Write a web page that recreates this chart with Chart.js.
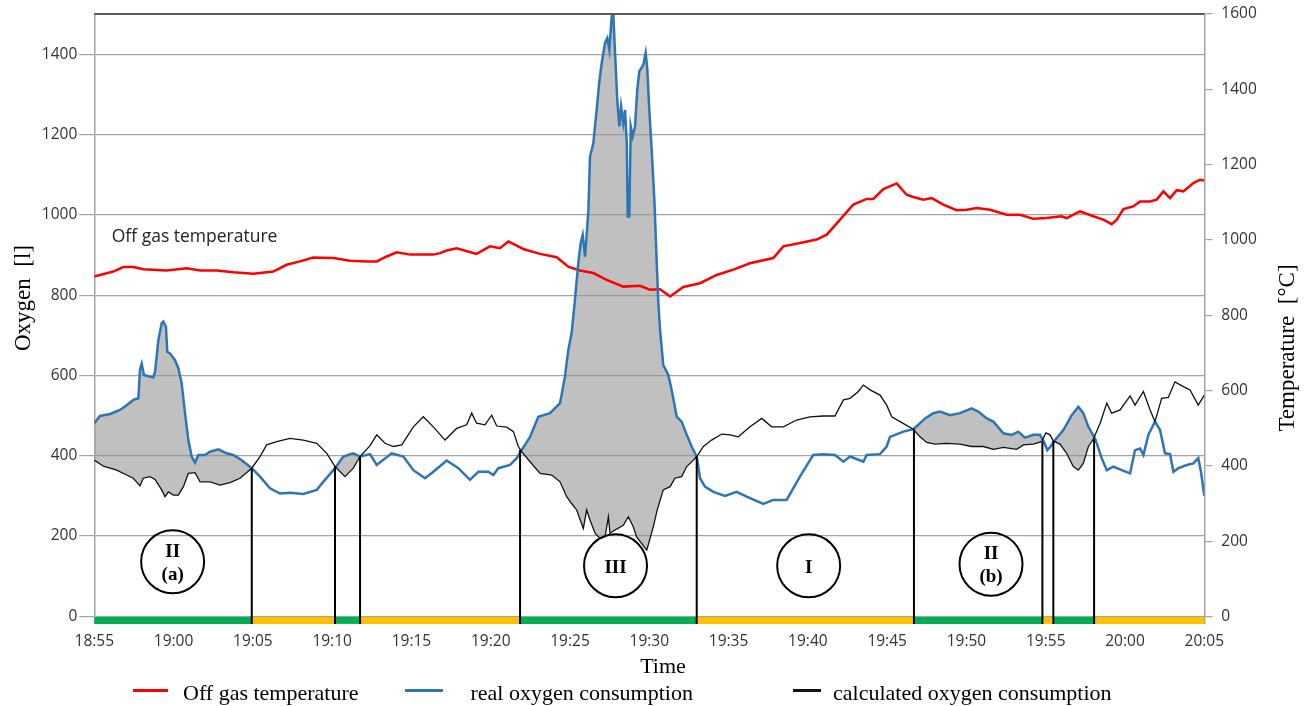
<!DOCTYPE html>
<html><head><meta charset="utf-8">
<script src="https://cdn.jsdelivr.net/npm/chart.js@4/dist/chart.umd.min.js"></script>
<style>html,body{margin:0;padding:0;background:#fff;}canvas{display:block;}</style>
</head><body>
<canvas id="c" width="1309" height="706"></canvas>
<script>
// ---- data (minutes after 18:55, value) ----
const timeLabels = ['18:55','19:00','19:05','19:10','19:15','19:20','19:25','19:30','19:35','19:40','19:45','19:50','19:55','20:00','20:05'];
const oxygenTicks = [0,200,400,600,800,1000,1200,1400];
const temperatureTicks = [0,200,400,600,800,1000,1200,1400,1600];

const offGasTemperature = [[0,903],[0.36,907],[1.2,916],[1.83,928],[2.46,928],[3.09,922],[4.57,919],[5.83,925],[6.67,919],[7.72,919],[8.77,914],[10.03,910],[11.29,916],[12.13,934],[12.97,943],[13.81,953],[15.07,952],[16.13,945],[17.18,943],[17.81,943],[18.44,956],[19.07,967],[19.91,961],[21.38,961],[21.8,965],[22.22,972],[22.85,978],[24.11,963],[24.95,983],[25.58,978],[26.11,996],[27.05,976],[28.11,963],[29.16,954],[29.89,929],[30.63,919],[31.47,912],[32.31,894],[33.36,876],[34.41,878],[35.05,868],[35.68,869],[36.31,850],[37.15,875],[38.2,885],[39.25,907],[40.3,921],[41.35,938],[42.82,952],[43.45,983],[44.5,992],[45.55,1001],[46.19,1014],[47.03,1054],[47.87,1094],[48.71,1109],[49.13,1109],[49.76,1135],[50.6,1150],[51.23,1120],[51.65,1114],[52.28,1107],[52.81,1111],[53.54,1094],[54.38,1079],[55.02,1080],[55.65,1085],[56.49,1080],[57.54,1067],[58.38,1067],[59.22,1056],[60.06,1058],[61.0,1063],[61.32,1058],[62.16,1076],[63.0,1063],[63.63,1054],[64.16,1042],[64.48,1054],[64.9,1082],[65.52,1089],[65.95,1102],[66.58,1102],[67.0,1107],[67.42,1129],[67.84,1111],[68.26,1132],[68.68,1129],[69.31,1151],[69.73,1160],[70,1158]];

const realOxygen = [[0,481],[0.36,499],[1.0,504],[1.62,514],[2.04,526],[2.46,539],[2.78,543],[2.88,614],[2.99,629],[3.13,601],[3.51,597],[3.72,595],[3.83,609],[4.04,688],[4.25,730],[4.35,734],[4.52,721],[4.6,659],[4.77,655],[5.09,638],[5.3,618],[5.51,580],[5.72,506],[5.93,439],[6.14,398],[6.35,383],[6.56,402],[6.98,402],[7.3,410],[7.82,416],[8.35,406],[8.77,402],[9.3,389],[9.93,369],[10.45,348],[11.08,319],[11.71,306],[12.34,308],[13.18,305],[14.03,315],[14.44,335],[15.18,369],[15.7,398],[16.33,406],[16.76,398],[17.39,404],[17.81,377],[18.75,406],[19.49,398],[20.12,364],[20.86,344],[21.38,360],[22.22,388],[22.96,369],[23.69,340],[24.22,360],[24.85,360],[25.16,352],[25.48,369],[26.22,377],[26.64,394],[26.95,414],[27.48,447],[28.0,497],[28.74,506],[29.37,531],[29.68,597],[29.89,663],[30.1,705],[30.31,788],[30.52,879],[30.67,929],[30.8,950],[30.95,896],[31.16,1012],[31.26,1145],[31.37,1162],[31.47,1178],[31.68,1261],[31.85,1332],[32.0,1378],[32.21,1428],[32.35,1440],[32.48,1411],[32.63,1494],[32.73,1500],[32.84,1403],[32.98,1286],[33.11,1220],[33.22,1270],[33.36,1228],[33.47,1261],[33.58,1178],[33.64,996],[33.74,996],[33.83,1220],[33.95,1195],[34.1,1220],[34.24,1311],[34.37,1357],[34.62,1373],[34.77,1403],[34.87,1365],[35.0,1261],[35.15,1162],[35.32,1037],[35.47,879],[35.57,780],[35.68,713],[35.88,626],[36.2,601],[36.41,564],[36.73,497],[37.04,485],[37.36,452],[37.67,423],[37.99,398],[38.2,344],[38.51,323],[39.04,310],[39.77,300],[40.51,310],[41.14,298],[42.19,280],[42.82,290],[43.66,290],[44.5,348],[45.34,402],[45.97,404],[46.71,402],[47.24,385],[47.66,398],[48.5,385],[48.71,402],[49.55,404],[49.97,423],[50.18,447],[51.02,460],[51.65,466],[52.07,481],[52.39,493],[52.91,506],[53.33,510],[53.96,501],[54.59,506],[55.33,518],[55.75,510],[56.28,493],[56.7,485],[57.33,456],[57.85,452],[58.27,460],[58.69,445],[59.22,452],[59.64,452],[59.89,435],[60.1,414],[60.31,423],[60.59,439],[61.11,464],[61.64,501],[62.06,522],[62.37,506],[62.69,472],[63.11,443],[63.53,394],[63.85,364],[64.26,373],[64.79,364],[65.32,356],[65.63,414],[65.95,418],[66.16,402],[66.47,452],[66.89,485],[67.21,464],[67.52,406],[67.84,404],[68.05,360],[68.37,369],[68.9,377],[69.31,381],[69.62,394],[69.79,360],[70,300]];

const calculatedOxygen = [[0,389],[0.57,374],[1.41,364],[2.04,352],[2.46,344],[2.88,325],[3.09,344],[3.51,348],[3.83,341],[4.25,315],[4.46,298],[4.67,310],[4.98,302],[5.3,302],[5.62,323],[5.93,356],[6.35,358],[6.67,335],[7.3,335],[7.93,327],[8.56,333],[9.19,344],[9.93,369],[10.45,398],[10.87,427],[11.5,435],[12.34,443],[13.18,439],[14.03,431],[14.66,406],[15.18,373],[15.81,348],[16.33,369],[16.76,398],[17.39,425],[17.81,452],[18.33,431],[18.86,423],[19.39,427],[20.12,472],[20.75,497],[21.38,472],[22.12,439],[22.85,468],[23.48,477],[23.8,506],[24.11,481],[24.64,477],[25.06,501],[25.38,474],[26.01,471],[26.43,460],[26.74,423],[26.95,410],[27.48,385],[28.11,356],[28.85,352],[29.37,335],[29.79,298],[30.1,281],[30.42,265],[30.84,219],[31.05,265],[31.26,240],[31.58,207],[31.89,194],[32.21,198],[32.42,248],[32.52,207],[32.84,215],[33.36,227],[33.68,248],[33.99,223],[34.2,198],[34.84,165],[35.25,223],[35.5,265],[35.88,315],[36.31,323],[36.62,344],[37.04,348],[37.36,373],[37.78,389],[37.99,398],[38.41,423],[38.93,439],[39.57,454],[40.09,452],[40.61,447],[41.35,472],[42.09,493],[42.72,472],[43.45,472],[44.29,489],[45.13,497],[45.97,499],[46.71,499],[47.24,539],[47.66,543],[48.18,560],[48.5,576],[48.92,564],[49.55,551],[49.97,526],[50.29,497],[50.81,485],[51.65,466],[52.07,447],[52.49,433],[53.02,429],[53.75,431],[54.59,429],[55.33,423],[56.07,423],[56.7,416],[57.33,421],[58.17,416],[58.59,427],[59.22,429],[59.74,435],[60.01,457],[60.27,452],[60.48,437],[60.9,429],[61.32,406],[61.74,373],[62.06,364],[62.37,381],[62.69,423],[63.0,441],[63.43,481],[63.85,531],[64.16,506],[64.69,514],[65.32,549],[65.63,526],[66.16,560],[66.58,514],[66.89,485],[67.31,543],[67.73,545],[68.15,584],[68.68,572],[69.1,564],[69.62,526],[70,551]];

// phase strip along the time axis and the phase boundaries
const phaseBoundaries = [0,9.93,15.18,16.76,26.85,37.99,51.69,59.79,60.48,63.05,70];
const phaseKinds = ['excess','deficit','excess','deficit','excess','deficit','excess','deficit','excess','deficit'];
const boundaryTops = [369,373,398,414,398,466,435,437,441];

const phaseNotes = [
  {lines:['II','(a)'], minute:4.94, oxygen:136},
  {lines:['III'], minute:32.87, oxygen:126},
  {lines:['I'], minute:45.05, oxygen:126},
  {lines:['II','(b)'], minute:56.55, oxygen:130}
];

// ---- styles ----
const RED = '#FF0000', BLUE = '#2E75B6', BLACK = '#111111';
const kindColor = {excess:'#00B050', deficit:'#FFC000'};
const Y_MIN = -19, Y2_MIN = -20;
const STRIP_LEVEL = -10;

const toPts = arr => arr.map(p => ({x:p[0], y:p[1]}));
const stripPts = phaseBoundaries.map(m => ({x:m, y:STRIP_LEVEL}));
const markerPts = [];
boundaryTops.forEach((top, i) => {
  const m = phaseBoundaries[i + 1];
  markerPts.push({x:m, y:top}, {x:m, y:Y_MIN}, {x:m, y:null});
});

const tickFont = {family:'"Open Sans", sans-serif', size:15.5};
const TICK_COLOR = '#333333';
const GRID = '#a3a3a3';

const decor = {
  id:'decor',
  afterDatasetsDraw(chart) {
    const {ctx, chartArea:a, scales:{x, y}} = chart;
    ctx.save();
    // top frame line
    ctx.strokeStyle = '#595959'; ctx.lineWidth = 2;
    ctx.beginPath(); ctx.moveTo(a.left, a.top); ctx.lineTo(a.right, a.top); ctx.stroke();
    // phase annotations
    phaseNotes.forEach(n => {
      const cx = x.getPixelForValue(n.minute), cy = y.getPixelForValue(n.oxygen);
      ctx.beginPath(); ctx.arc(cx, cy, 31.5, 0, Math.PI * 2);
      ctx.strokeStyle = '#000'; ctx.lineWidth = 2; ctx.stroke();
      ctx.fillStyle = '#000'; ctx.textAlign = 'center'; ctx.textBaseline = 'alphabetic';
      ctx.font = 'bold 19px "Liberation Serif", serif';
      if (n.lines.length === 1) {
        ctx.fillText(n.lines[0], cx, cy + 7);
      } else {
        ctx.fillText(n.lines[0], cx, cy - 5);
        ctx.fillText(n.lines[1], cx, cy + 18);
      }
    });
    // in-plot label
    ctx.font = '17.5px "Open Sans", sans-serif';
    ctx.fillStyle = '#222'; ctx.textAlign = 'left';
    ctx.fillText('Off gas temperature', x.getPixelForValue(1.1), y.getPixelForValue(932));
    ctx.restore();
  },
  afterDraw(chart) {
    const {ctx} = chart;
    ctx.save();
    ctx.fillStyle = '#000';
    ctx.font = '23px "Liberation Serif", serif';
    ctx.textAlign = 'center'; ctx.textBaseline = 'middle';
    ctx.save(); ctx.translate(24, 298); ctx.rotate(-Math.PI / 2); ctx.fillText('Oxygen  [l]', 0, 0); ctx.restore();
    ctx.save(); ctx.translate(1288, 348); ctx.rotate(-Math.PI / 2); ctx.fillText('Temperature  [°C]', 0, 0); ctx.restore();
    ctx.font = '22px "Liberation Serif", serif';
    ctx.textBaseline = 'alphabetic';
    ctx.fillText('Time', 663, 672.5);
    // legend
    const items = [
      {label:'Off gas temperature', color:RED, l0:133, l1:168, tx:183},
      {label:'real oxygen consumption', color:BLUE, l0:405, l1:443, tx:470.5},
      {label:'calculated oxygen consumption', color:BLACK, l0:793, l1:821, tx:833}
    ];
    ctx.textAlign = 'left';
    items.forEach(it => {
      ctx.strokeStyle = it.color; ctx.lineWidth = 3;
      ctx.beginPath(); ctx.moveTo(it.l0, 690.5); ctx.lineTo(it.l1, 690.5); ctx.stroke();
      ctx.fillStyle = '#000';
      ctx.fillText(it.label, it.tx, 699.5);
    });
    ctx.restore();
  }
};

new Chart(document.getElementById('c'), {
  type:'line',
  data:{
    datasets:[
      {label:'Off gas temperature', data:toPts(offGasTemperature), yAxisID:'y2', borderColor:RED, borderWidth:2.5, pointRadius:0, tension:0, fill:false, order:3},
      {label:'real oxygen consumption', data:toPts(realOxygen), yAxisID:'y', borderColor:BLUE, borderWidth:2.5, pointRadius:0, tension:0,
        fill:{target:2, above:'rgba(150,150,150,0.6)', below:'rgba(0,0,0,0)'}, order:2},
      {label:'calculated oxygen consumption', data:toPts(calculatedOxygen), yAxisID:'y', borderColor:BLACK, borderWidth:1.3, pointRadius:0, tension:0, fill:false, order:1},
      {label:'phase strip', data:stripPts, yAxisID:'y', borderWidth:7, borderCapStyle:'butt', pointRadius:0, tension:0, fill:false, clip:false, order:4,
        borderColor:kindColor.excess,
        segment:{borderColor: c => kindColor[phaseKinds[c.p0DataIndex]]}},
      {label:'phase boundaries', data:markerPts, yAxisID:'y', borderColor:'#000', borderWidth:2, pointRadius:0, tension:0, fill:false, spanGaps:false, order:0}
    ]
  },
  options:{
    responsive:false, devicePixelRatio:1, animation:false, parsing:true,
    layout:{padding:{top:14, left:0, right:0, bottom:0}},
    plugins:{legend:{display:false}, tooltip:{enabled:false}, filler:{drawTime:'beforeDatasetsDraw'}},
    scales:{
      x:{type:'linear', min:0, max:70,
        afterFit: s => { s.height = 82; },
        grid:{display:false, drawTicks:false}, border:{display:false},
        ticks:{stepSize:5, autoSkip:false, maxRotation:0, padding:8, color:TICK_COLOR, font:tickFont,
          callback: v => timeLabels[Math.round(v / 5)]}},
      y:{type:'linear', position:'left', min:Y_MIN, max:1500,
        afterFit: s => { s.width = 94.3; },
        afterBuildTicks: s => { s.ticks = oxygenTicks.map(v => ({value:v})); },
        grid:{color:GRID, lineWidth:1.2, tickLength:15, tickColor:GRID},
        border:{display:true, color:GRID, width:1.5},
        ticks:{padding:2, color:TICK_COLOR, font:tickFont, callback: v => String(v)}},
      y2:{type:'linear', position:'right', min:Y2_MIN, max:1600,
        afterFit: s => { s.width = 104.7; },
        afterBuildTicks: s => { s.ticks = temperatureTicks.map(v => ({value:v})); },
        grid:{drawOnChartArea:false, tickLength:15, tickBorderDash:[7, 40], color:GRID, lineWidth:1.2},
        border:{display:true, color:GRID, width:1.5},
        ticks:{padding:2, color:TICK_COLOR, font:tickFont, callback: v => String(v)}}
    }
  },
  plugins:[decor]
});
</script>
</body></html>
